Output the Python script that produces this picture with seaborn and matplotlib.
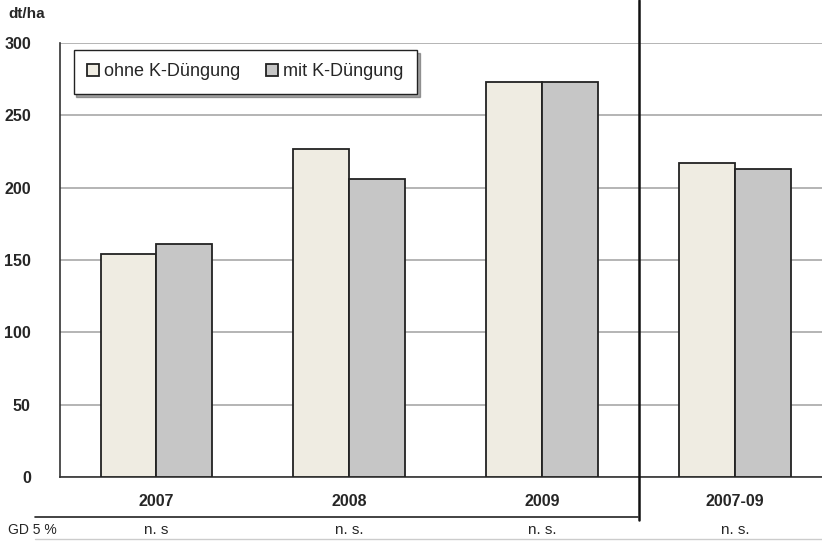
import matplotlib
matplotlib.use("Agg")
import matplotlib.pyplot as plt
import seaborn as sns
import pandas as pd

years = ["2007", "2008", "2009", "2007-09"]
ohne_k = [154, 227, 273, 217]
mit_k = [161, 206, 273, 213]
series = ["ohne K-Düngung", "mit K-Düngung"]
gd5 = ["n. s", "n. s.", "n. s.", "n. s."]

df = pd.DataFrame({
    "Jahr": years * 2,
    "Ertrag": ohne_k + mit_k,
    "Variante": [series[0]] * 4 + [series[1]] * 4,
})

sns.set_style("white")
plt.rcParams["font.family"] = ["Liberation Sans", "DejaVu Sans"]

fig = plt.figure(figsize=(8.22, 5.41), dpi=100)
ax = fig.add_axes([60 / 822, 1 - 477 / 541, 1 - 60 / 822, 434 / 541])

cols = {series[0]: "#efece2", series[1]: "#c6c6c6"}
sns.barplot(data=df, x="Jahr", y="Ertrag", hue="Variante", palette=cols,
            width=0.58, gap=0, edgecolor="#222222", linewidth=1.3,
            saturation=1, legend=True, ax=ax, zorder=3)

ax.set_ylim(0, 300)
ax.set_xlim(-0.5, 3.45)
ax.set_yticks(range(0, 301, 50))
ax.yaxis.grid(True, color="#a8a8a8", linewidth=1.2, zorder=0)
ax.set_xlabel("")
ax.set_ylabel("")
for s in ["top", "right"]:
    ax.spines[s].set_visible(False)
ax.spines["left"].set_color("#333333")
ax.spines["bottom"].set_color("#333333")
ax.spines["left"].set_linewidth(1.2)
ax.spines["bottom"].set_linewidth(1.2)

ax.tick_params(axis="y", length=5, color="#333333", labelsize=11.5, pad=16)
ax.tick_params(axis="x", length=0, labelsize=11.5, pad=12)
for lab in ax.get_yticklabels() + ax.get_xticklabels():
    lab.set_fontweight("bold")
ax.set_xticks([-0.5, 0.5], minor=True)
ax.tick_params(axis="x", which="minor", length=5, direction="in", color="#333333")

leg = ax.legend(loc="upper left", bbox_to_anchor=(0.018, 0.984), ncol=2,
                fontsize=13, frameon=True, fancybox=False, shadow=True,
                borderaxespad=0, handlelength=0.65, handleheight=0.65,
                handletextpad=0.3, columnspacing=1.4, borderpad=0.75)
leg.get_frame().set_edgecolor("#222222")
leg.get_frame().set_linewidth(1.0)

# separator line between single years and average
ax.plot([2.5, 2.5], [1.1, -0.1], transform=ax.get_xaxis_transform(),
        color="#111111", linewidth=1.8, clip_on=False, zorder=5)

fig.text(8 / 822, 1 - 14 / 541, "dt/ha", fontsize=11, fontweight="bold",
         va="center", ha="left")

# GD 5 % row
fig.add_artist(plt.Line2D([35 / 822, 638 / 822], [1 - 517 / 541] * 2,
                          color="#222222", linewidth=1.2))
fig.add_artist(plt.Line2D([35 / 822, 1.0], [1 - 539 / 541] * 2,
                          color="#cccccc", linewidth=1.0))
fig.text(8 / 822, 1 - 530 / 541, "GD 5 %", fontsize=10, va="center", ha="left")
for i, t in enumerate(gd5):
    xf = ax.transAxes.inverted().transform(ax.transData.transform((i, 0)))[0]
    fig.text((60 + xf * 762) / 822, 1 - 530 / 541, t, fontsize=11,
             va="center", ha="center")

fig.savefig("out.png", dpi=100)
